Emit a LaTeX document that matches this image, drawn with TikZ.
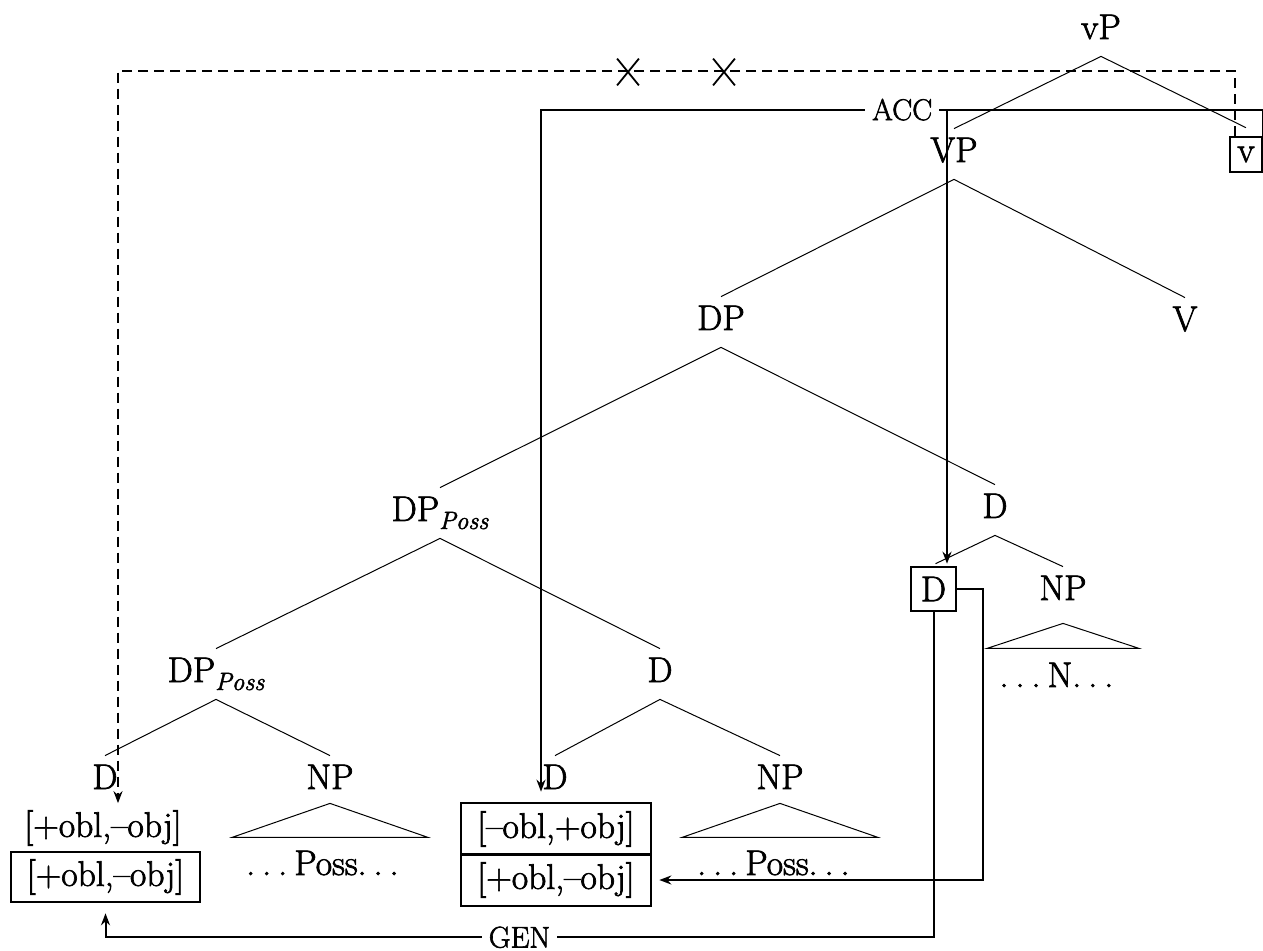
\documentclass[tikz,border=0pt]{standalone}
\usepackage{fontspec}
\setmainfont{Latin Modern Roman}[FakeBold=2]
\usetikzlibrary{arrows.meta,shapes.misc}
\newcommand{\possub}{\raisebox{-4pt}{\fontsize{12.5}{14}\selectfont\itshape Poss}}
\newcommand{\ddd}{.\kern.2em.\kern.2em.\kern.2em}
\begin{document}
\begin{tikzpicture}[x=0.5pt,y=-0.5pt,
  font=\fontsize{17.8}{21}\selectfont,
  tn/.style={anchor=base, inner xsep=1pt, inner ysep=4.5pt, text height=12pt, text depth=4pt},
  br/.style={line width=0.5pt},
  conn/.style={line width=1pt},
  arr/.style={conn,-{Stealth[length=6pt,width=4.5pt]}},
  boxed/.style={draw, line width=1.3pt, inner sep=0pt},
  fbox/.style={boxed, minimum width=95pt, minimum height=26pt},
  lab/.style={fill=white, inner xsep=3.5pt, inner ysep=1pt, font=\fontsize{15}{17}\selectfont},
  xmark/.style={draw, cross out, line width=0.9pt, minimum width=10pt, minimum height=12.5pt, inner sep=0pt}
]
\useasboundingbox (0,0) rectangle (1263,951);

% tree nodes
\node[tn] (vP) at (1101,39) {vP};
\node[tn] (VP) at (954,162) {VP};
\node[boxed, minimum width=16pt, minimum height=17.5pt] (v) at (1246,154.5) {v};
\node[tn] (DP) at (721,330) {DP};
\node[tn] (V) at (1185,331) {V};
\node[tn] (DPp) at (440,521) {DP\possub};
\node[tn] (Dr) at (995,518) {D};
\node[boxed, minimum width=22.5pt, minimum height=22pt] (Db) at (933.5,589) {D};
\node[tn] (NPr) at (1063,600) {NP};
\node[tn] (DPq) at (216,682) {DP\possub};
\node[tn] (Dm) at (660,682) {D};
\node[tn] (Dl) at (105,789) {D};
\node[tn] (NPl) at (330,789) {NP};
\node[tn] (Dc) at (555,789) {D};
\node[tn] (NPc) at (780,789) {NP};

% features
\node (fl1) at (103,828) {[+obl,\textendash obj]};
\node[fbox, minimum width=94.5pt, minimum height=25pt] (fl2) at (105.5,877) {[+obl,\textendash obj]};
\node[fbox] (fc1) at (556,829) {[\textendash obl,+obj]};
\node[fbox] (fc2) at (556,880) {[+obl,\textendash obj]};

% terminal strings
\node[anchor=base] (Pl) at (326,875) {\ddd Poss\ddd};
\node[anchor=base] (Pc) at (777,875) {\ddd Poss\ddd};
\node[anchor=base] (Nr) at (1060,687) {\ddd N\ddd};

% branches
\draw[br] (vP.south) -- (VP.north);
\draw[br] (vP.south) -- ([yshift=4pt]v.north);
\draw[br] (VP.south) -- (DP.north);
\draw[br] (VP.south) -- (V.north);
\draw[br] (DP.south) -- (DPp.north);
\draw[br] (DP.south) -- (Dr.north);
\draw[br] (Dr.south) -- ([xshift=1pt,yshift=1pt]Db.north);
\draw[br] (Dr.south) -- (NPr.north);
\draw[br] (DPp.south) -- (DPq.north);
\draw[br] (DPp.south) -- (Dm.north);
\draw[br] (DPq.south) -- (Dl.north);
\draw[br] (DPq.south) -- (NPl.north);
\draw[br] (Dm.south) -- (Dc.north);
\draw[br] (Dm.south) -- (NPc.north);

% triangles
\draw[br] ([yshift=1.5pt]NPl.south) -- ++(-98,34) -- ++(196,0) -- cycle;
\draw[br] ([yshift=1.5pt]NPc.south) -- ++(-98,34) -- ++(196,0) -- cycle;
\draw[br] ([yshift=-3pt]NPr.south) -- ++(-76,25) -- ++(152,0) -- cycle;

% dashed (blocked) path
\draw[arr, dash pattern=on 5pt off 3pt] ([xshift=-5.5pt]v.north) -- ++(0,-65) -| ([xshift=7.5pt]fl1.north);
\node[xmark] (x1) at (628,72) {};
\node[xmark] (x2) at (724,72) {};

% ACC
\coordinate (accR) at ([yshift=13pt]v.north east);
\draw[arr, shorten >=5pt] (v.north east) -- (accR) -| node[lab, pos=0.25] (acc) {ACC} ([xshift=-7.5pt]fc1.north);
\draw[arr] ([xshift=6.75pt]Db.north |- accR) -- ([xshift=6.75pt,yshift=1pt]Db.north);

% GEN
\draw[arr, shorten >=5pt] (Db.south) -- ++(0,325) -| node[lab, pos=0.25] (gen) {GEN} (fl2.south);

% D to lower mid box
\draw[arr, shorten >=3.5pt] (Db.east) -- ++(26,0) |- (fc2.east);
\end{tikzpicture}
\end{document}
